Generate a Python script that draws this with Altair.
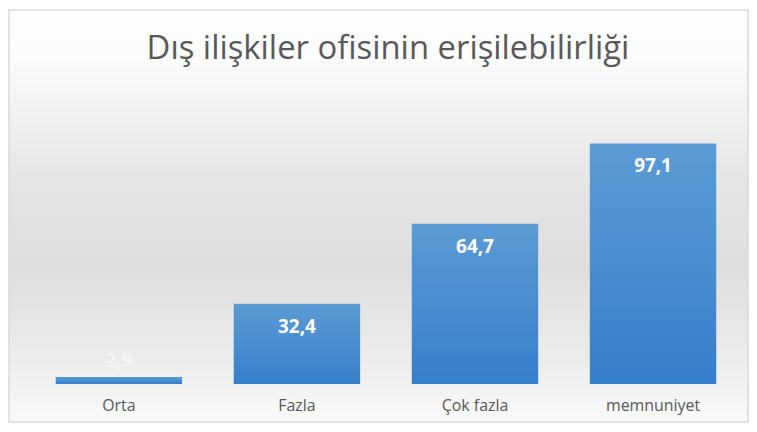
import altair as alt
import pandas as pd

categories = ["Orta", "Fazla", "Çok fazla", "memnuniyet"]
values = [2.9, 32.4, 64.7, 97.1]
title_text = "Dış ilişkiler ofisinin erişilebilirliği"

df = pd.DataFrame({"cat": categories, "val": values})

PL, PT, PR, PB = 22, 78, 7, 39
W, H = 716, 299

bg = alt.Chart(pd.DataFrame({"a": [0]})).mark_rect(
    color=alt.Gradient(
        gradient="linear", x1=0, y1=0, x2=0, y2=1,
        stops=[
            alt.GradientStop(color="#ffffff", offset=0.0),
            alt.GradientStop(color="#fbfbfb", offset=0.12),
            alt.GradientStop(color="#e6e6e6", offset=0.4),
            alt.GradientStop(color="#dedede", offset=0.62),
            alt.GradientStop(color="#ececec", offset=0.85),
            alt.GradientStop(color="#fafafa", offset=1.0),
        ],
    ),
    stroke="#d9d9d9", strokeWidth=1.5,
).encode(
    x=alt.value(-PL + 1), x2=alt.value(W + PR - 1),
    y=alt.value(-PT + 1), y2=alt.value(H + PB - 1),
)

title = alt.Chart(pd.DataFrame({"t": [title_text]})).mark_text(
    font="Open Sans", fontSize=33, color="#595959", align="center", baseline="alphabetic",
).encode(x=alt.value(360), y=alt.value(-28), text="t:N")

base = alt.Chart(df).encode(
    x=alt.X("cat:N", sort=categories, title=None,
            scale=alt.Scale(paddingInner=0.29, paddingOuter=0.145, round=False),
            axis=alt.Axis(labelAngle=0, labelFont="Open Sans", labelFontSize=16,
                          labelColor="#595959", labelPadding=14, domain=False,
                          ticks=False, grid=False, zindex=2)),
)

yscale = alt.Scale(domain=[0, 120])

bars = base.mark_bar(
    color=alt.Gradient(
        gradient="linear", x1=0, y1=0, x2=0, y2=1,
        stops=[alt.GradientStop(color="#5b9bd5", offset=0),
               alt.GradientStop(color="#3580cb", offset=1)],
    )
).encode(y=alt.Y("val:Q", scale=yscale, axis=None))

label_calc = {"lab": "replace(format(datum.val, '.1f'), '.', ',')"}

text_in = base.transform_filter("datum.val >= 10").transform_calculate(**label_calc).mark_text(
    color="white", font="Open Sans", fontWeight="bold", fontSize=19,
    baseline="middle", dy=23,
).encode(y=alt.Y("val:Q", scale=yscale), text="lab:N")

text_out = base.transform_filter("datum.val < 10").transform_calculate(**label_calc).mark_text(
    color="#f4f4f4", font="Open Sans", fontWeight="bold", fontSize=19,
    baseline="middle", dy=-16,
).encode(y=alt.Y("val:Q", scale=yscale), text="lab:N")

chart = alt.layer(bg, title, bars, text_in, text_out).properties(
    width=W, height=H,
    autosize=alt.AutoSizeParams(type="none"),
    padding={"left": PL, "top": PT, "right": PR, "bottom": PB},
).configure_view(stroke=None).configure(background="white")

chart.save("out.html", embed_options={"renderer": "svg", "actions": False})
